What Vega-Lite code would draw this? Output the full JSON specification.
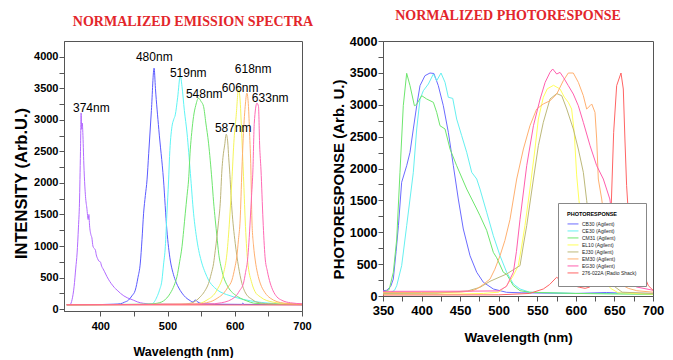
{
"$schema": "https://vega.github.io/schema/vega-lite/v6.json",
"background": "white",
"padding": {"left": 13, "top": 8, "right": 5, "bottom": 0},
"spacing": 16,
"config": {
  "view": {"stroke": "#555", "strokeWidth": 1},
  "axis": {"grid": false, "domainColor": "#555", "tickColor": "#555", "labelColor": "#000", "titleColor": "#000", "labelFontWeight": "bold", "titleFontWeight": "bold", "labelFont": "Liberation Sans", "titleFont": "Liberation Sans", "labelOverlap": false, "labelFlush": false},
  "title": {"font": "Liberation Serif", "fontSize": 14, "fontWeight": "bold", "color": "#e3262b", "offset": 12}
},
"resolve": {"scale": {"color": "independent", "x": "independent", "y": "independent"}},
"datasets": {
"emis": [
{"s":"374nm","w":350,"v":70},{"s":"374nm","w":355,"v":72},{"s":"374nm","w":358,"v":150},{"s":"374nm","w":361,"v":355},{"s":"374nm","w":363.5,"v":650},{"s":"374nm","w":365.5,"v":890},{"s":"374nm","w":367.5,"v":1300},{"s":"374nm","w":369,"v":1680},{"s":"374nm","w":370.5,"v":2500},{"s":"374nm","w":371.5,"v":3110},{"s":"374nm","w":372.3,"v":2850},{"s":"374nm","w":373.2,"v":2950},{"s":"374nm","w":374,"v":2800},{"s":"374nm","w":375.5,"v":2300},{"s":"374nm","w":377,"v":1950},{"s":"374nm","w":378,"v":1783},{"s":"374nm","w":380,"v":1600},{"s":"374nm","w":382,"v":1420},{"s":"374nm","w":383,"v":1500},{"s":"374nm","w":384,"v":1330},{"s":"374nm","w":386,"v":1180},{"s":"374nm","w":387.5,"v":1130},{"s":"374nm","w":389,"v":1000},{"s":"374nm","w":391,"v":960},{"s":"374nm","w":392.6,"v":940},{"s":"374nm","w":394,"v":860},{"s":"374nm","w":396,"v":800},{"s":"374nm","w":398,"v":760},{"s":"374nm","w":400,"v":750},{"s":"374nm","w":402,"v":680},{"s":"374nm","w":404,"v":640},{"s":"374nm","w":406,"v":600},{"s":"374nm","w":410,"v":513},{"s":"374nm","w":414,"v":440},{"s":"374nm","w":418,"v":380},{"s":"374nm","w":421,"v":340},{"s":"374nm","w":425,"v":300},{"s":"374nm","w":430,"v":250},{"s":"374nm","w":435,"v":210},{"s":"374nm","w":440,"v":180},{"s":"374nm","w":449,"v":143},{"s":"374nm","w":455,"v":115},{"s":"374nm","w":464,"v":92},{"s":"374nm","w":480,"v":80},{"s":"374nm","w":520,"v":75},{"s":"374nm","w":600,"v":72},{"s":"374nm","w":700,"v":70},
{"s":"480nm","w":350,"v":70},{"s":"480nm","w":400,"v":72},{"s":"480nm","w":420,"v":78},{"s":"480nm","w":430,"v":85},{"s":"480nm","w":436,"v":110},{"s":"480nm","w":442,"v":143},{"s":"480nm","w":447,"v":210},{"s":"480nm","w":452,"v":300},{"s":"480nm","w":456,"v":500},{"s":"480nm","w":459.5,"v":730},{"s":"480nm","w":462,"v":1100},{"s":"480nm","w":464.4,"v":1520},{"s":"480nm","w":467,"v":1800},{"s":"480nm","w":469.5,"v":2048},{"s":"480nm","w":472,"v":2470},{"s":"480nm","w":476,"v":3150},{"s":"480nm","w":480,"v":3820},{"s":"480nm","w":482,"v":3500},{"s":"480nm","w":487,"v":2850},{"s":"480nm","w":494,"v":2048},{"s":"480nm","w":499,"v":1254},{"s":"480nm","w":504,"v":778},{"s":"480nm","w":508,"v":580},{"s":"480nm","w":511.5,"v":460},{"s":"480nm","w":516,"v":350},{"s":"480nm","w":521.5,"v":254},{"s":"480nm","w":527,"v":185},{"s":"480nm","w":534,"v":132},{"s":"480nm","w":538,"v":110},{"s":"480nm","w":541,"v":145},{"s":"480nm","w":544,"v":120},{"s":"480nm","w":550,"v":90},{"s":"480nm","w":570,"v":78},{"s":"480nm","w":610,"v":75},{"s":"480nm","w":612,"v":95},{"s":"480nm","w":614,"v":75},{"s":"480nm","w":700,"v":70},
{"s":"519nm","w":350,"v":70},{"s":"519nm","w":460,"v":72},{"s":"519nm","w":470,"v":78},{"s":"519nm","w":477,"v":85},{"s":"519nm","w":484.3,"v":195},{"s":"519nm","w":488,"v":300},{"s":"519nm","w":491.7,"v":460},{"s":"519nm","w":494,"v":700},{"s":"519nm","w":496.7,"v":989},{"s":"519nm","w":499,"v":1500},{"s":"519nm","w":501.6,"v":2048},{"s":"519nm","w":503,"v":2418},{"s":"519nm","w":506.6,"v":2894},{"s":"519nm","w":509,"v":3000},{"s":"519nm","w":511.5,"v":3079},{"s":"519nm","w":515,"v":3350},{"s":"519nm","w":519,"v":3698},{"s":"519nm","w":521.5,"v":3529},{"s":"519nm","w":525,"v":3150},{"s":"519nm","w":529,"v":2790},{"s":"519nm","w":534,"v":2150},{"s":"519nm","w":538.7,"v":1520},{"s":"519nm","w":543.7,"v":1095},{"s":"519nm","w":551,"v":730},{"s":"519nm","w":556,"v":580},{"s":"519nm","w":561,"v":460},{"s":"519nm","w":570,"v":340},{"s":"519nm","w":578,"v":275},{"s":"519nm","w":588,"v":230},{"s":"519nm","w":598,"v":195},{"s":"519nm","w":610,"v":160},{"s":"519nm","w":623,"v":132},{"s":"519nm","w":640,"v":105},{"s":"519nm","w":658,"v":90},{"s":"519nm","w":680,"v":80},{"s":"519nm","w":700,"v":75},
{"s":"548nm","w":350,"v":70},{"s":"548nm","w":470,"v":78},{"s":"548nm","w":483,"v":90},{"s":"548nm","w":494,"v":130},{"s":"548nm","w":504,"v":250},{"s":"548nm","w":510,"v":380},{"s":"548nm","w":514,"v":513},{"s":"548nm","w":518,"v":750},{"s":"548nm","w":521.5,"v":989},{"s":"548nm","w":524,"v":1250},{"s":"548nm","w":526.4,"v":1520},{"s":"548nm","w":529,"v":1800},{"s":"548nm","w":531.3,"v":2048},{"s":"548nm","w":533.8,"v":2524},{"s":"548nm","w":536,"v":2800},{"s":"548nm","w":538.7,"v":3053},{"s":"548nm","w":542,"v":3230},{"s":"548nm","w":546,"v":3344},{"s":"548nm","w":550,"v":3290},{"s":"548nm","w":553.6,"v":3211},{"s":"548nm","w":557,"v":2950},{"s":"548nm","w":561,"v":2630},{"s":"548nm","w":566,"v":2048},{"s":"548nm","w":568.5,"v":1700},{"s":"548nm","w":571,"v":1413},{"s":"548nm","w":573.5,"v":1150},{"s":"548nm","w":576,"v":888},{"s":"548nm","w":580,"v":650},{"s":"548nm","w":583.3,"v":513},{"s":"548nm","w":588,"v":390},{"s":"548nm","w":593,"v":302},{"s":"548nm","w":600,"v":230},{"s":"548nm","w":608,"v":175},{"s":"548nm","w":618,"v":130},{"s":"548nm","w":628,"v":95},{"s":"548nm","w":650,"v":80},{"s":"548nm","w":700,"v":72},
{"s":"587nm","w":350,"v":70},{"s":"587nm","w":520,"v":75},{"s":"587nm","w":535,"v":95},{"s":"587nm","w":548.7,"v":195},{"s":"587nm","w":555,"v":280},{"s":"587nm","w":561,"v":408},{"s":"587nm","w":565,"v":560},{"s":"587nm","w":568.5,"v":725},{"s":"587nm","w":571,"v":930},{"s":"587nm","w":573.5,"v":1148},{"s":"587nm","w":576,"v":1400},{"s":"587nm","w":578.4,"v":1678},{"s":"587nm","w":580.9,"v":2206},{"s":"587nm","w":582.4,"v":2400},{"s":"587nm","w":585,"v":2600},{"s":"587nm","w":587.3,"v":2772},{"s":"587nm","w":589.5,"v":2650},{"s":"587nm","w":591,"v":2400},{"s":"587nm","w":592.3,"v":2206},{"s":"587nm","w":595.8,"v":1571},{"s":"587nm","w":598,"v":1300},{"s":"587nm","w":600.7,"v":1043},{"s":"587nm","w":603,"v":850},{"s":"587nm","w":605.6,"v":671},{"s":"587nm","w":608,"v":530},{"s":"587nm","w":610.6,"v":408},{"s":"587nm","w":614,"v":300},{"s":"587nm","w":618,"v":222},{"s":"587nm","w":625,"v":160},{"s":"587nm","w":633,"v":110},{"s":"587nm","w":650,"v":85},{"s":"587nm","w":700,"v":72},
{"s":"606nm","w":350,"v":70},{"s":"606nm","w":540,"v":78},{"s":"606nm","w":558.6,"v":143},{"s":"606nm","w":573.5,"v":302},{"s":"606nm","w":583.3,"v":567},{"s":"606nm","w":588.4,"v":884},{"s":"606nm","w":592.3,"v":1413},{"s":"606nm","w":596,"v":2100},{"s":"606nm","w":599,"v":2700},{"s":"606nm","w":602,"v":3053},{"s":"606nm","w":605.6,"v":3487},{"s":"606nm","w":608,"v":3300},{"s":"606nm","w":610.6,"v":2700},{"s":"606nm","w":613,"v":2100},{"s":"606nm","w":615.5,"v":1413},{"s":"606nm","w":619,"v":778},{"s":"606nm","w":625.5,"v":408},{"s":"606nm","w":630,"v":280},{"s":"606nm","w":637.8,"v":195},{"s":"606nm","w":657,"v":110},{"s":"606nm","w":680,"v":85},{"s":"606nm","w":700,"v":78},
{"s":"618nm","w":350,"v":70},{"s":"618nm","w":540,"v":80},{"s":"618nm","w":563.5,"v":116},{"s":"618nm","w":575,"v":180},{"s":"618nm","w":583.3,"v":250},{"s":"618nm","w":590,"v":350},{"s":"618nm","w":595.8,"v":460},{"s":"618nm","w":600,"v":650},{"s":"618nm","w":603,"v":830},{"s":"618nm","w":605.5,"v":1100},{"s":"618nm","w":608,"v":1413},{"s":"618nm","w":610.6,"v":2206},{"s":"618nm","w":612.5,"v":2700},{"s":"618nm","w":615.5,"v":3211},{"s":"618nm","w":618,"v":3424},{"s":"618nm","w":620.4,"v":3211},{"s":"618nm","w":622,"v":2800},{"s":"618nm","w":624,"v":2206},{"s":"618nm","w":625.5,"v":1413},{"s":"618nm","w":628,"v":1000},{"s":"618nm","w":630.4,"v":778},{"s":"618nm","w":634,"v":560},{"s":"618nm","w":637.8,"v":413},{"s":"618nm","w":645,"v":260},{"s":"618nm","w":652.7,"v":175},{"s":"618nm","w":673,"v":95},{"s":"618nm","w":700,"v":78},
{"s":"633nm","w":350,"v":70},{"s":"633nm","w":560,"v":80},{"s":"633nm","w":580,"v":100},{"s":"633nm","w":600.7,"v":195},{"s":"633nm","w":607,"v":290},{"s":"633nm","w":613,"v":413},{"s":"633nm","w":616,"v":580},{"s":"633nm","w":619,"v":778},{"s":"633nm","w":621,"v":1050},{"s":"633nm","w":623,"v":1413},{"s":"633nm","w":625,"v":1800},{"s":"633nm","w":627,"v":2206},{"s":"633nm","w":629,"v":2947},{"s":"633nm","w":633,"v":3265},{"s":"633nm","w":635.3,"v":3211},{"s":"633nm","w":637,"v":2600},{"s":"633nm","w":639,"v":2206},{"s":"633nm","w":642,"v":1413},{"s":"633nm","w":645,"v":830},{"s":"633nm","w":648.5,"v":600},{"s":"633nm","w":652.7,"v":413},{"s":"633nm","w":657,"v":290},{"s":"633nm","w":662.6,"v":195},{"s":"633nm","w":670,"v":140},{"s":"633nm","w":683,"v":100},{"s":"633nm","w":700,"v":85},
{"s":"base","w":350,"v":66},{"s":"base","w":700,"v":66}
],
"peaks": [
{"t":"374nm","w":386.7,"v":3190},{"t":"480nm","w":480.3,"v":4000},{"t":"519nm","w":530.8,"v":3746},{"t":"548nm","w":554.6,"v":3413},{"t":"587nm","w":597.7,"v":2873},{"t":"606nm","w":608,"v":3508},{"t":"618nm","w":627.4,"v":3810},{"t":"633nm","w":652.7,"v":3349}
],
"resp": [
{"d":"CB30 (Agilent)","w":350,"v":83},{"d":"CB30 (Agilent)","w":355,"v":90},{"d":"CB30 (Agilent)","w":360,"v":150},{"d":"CB30 (Agilent)","w":363.4,"v":267},{"d":"CB30 (Agilent)","w":367,"v":700},{"d":"CB30 (Agilent)","w":370,"v":1103},{"d":"CB30 (Agilent)","w":374.2,"v":1784},{"d":"CB30 (Agilent)","w":380.7,"v":2044},{"d":"CB30 (Agilent)","w":385,"v":2254},{"d":"CB30 (Agilent)","w":389.3,"v":2620},{"d":"CB30 (Agilent)","w":393.7,"v":2985},{"d":"CB30 (Agilent)","w":398,"v":3300},{"d":"CB30 (Agilent)","w":404.4,"v":3456},{"d":"CB30 (Agilent)","w":410.9,"v":3498},{"d":"CB30 (Agilent)","w":416,"v":3490},{"d":"CB30 (Agilent)","w":421.7,"v":3300},{"d":"CB30 (Agilent)","w":428.2,"v":2985},{"d":"CB30 (Agilent)","w":434.7,"v":2568},{"d":"CB30 (Agilent)","w":441.2,"v":2044},{"d":"CB30 (Agilent)","w":447.6,"v":1522},{"d":"CB30 (Agilent)","w":454.1,"v":1051},{"d":"CB30 (Agilent)","w":462.8,"v":632},{"d":"CB30 (Agilent)","w":471.5,"v":372},{"d":"CB30 (Agilent)","w":480.1,"v":215},{"d":"CB30 (Agilent)","w":493,"v":110},{"d":"CB30 (Agilent)","w":510,"v":58},{"d":"CB30 (Agilent)","w":530,"v":50},{"d":"CB30 (Agilent)","w":560,"v":45},{"d":"CB30 (Agilent)","w":600,"v":40},{"d":"CB30 (Agilent)","w":640,"v":55},{"d":"CB30 (Agilent)","w":660,"v":45},{"d":"CB30 (Agilent)","w":700,"v":40},
{"d":"CE30 (Agilent)","w":350,"v":50},{"d":"CE30 (Agilent)","w":360,"v":55},{"d":"CE30 (Agilent)","w":365,"v":90},{"d":"CE30 (Agilent)","w":367.8,"v":162},{"d":"CE30 (Agilent)","w":374.2,"v":476},{"d":"CE30 (Agilent)","w":380.7,"v":1103},{"d":"CE30 (Agilent)","w":385,"v":1522},{"d":"CE30 (Agilent)","w":389.3,"v":1940},{"d":"CE30 (Agilent)","w":393.7,"v":2620},{"d":"CE30 (Agilent)","w":398,"v":3090},{"d":"CE30 (Agilent)","w":402.3,"v":3220},{"d":"CE30 (Agilent)","w":408.8,"v":3325},{"d":"CE30 (Agilent)","w":415.3,"v":3482},{"d":"CE30 (Agilent)","w":419.6,"v":3377},{"d":"CE30 (Agilent)","w":425.2,"v":3498},{"d":"CE30 (Agilent)","w":430.4,"v":3352},{"d":"CE30 (Agilent)","w":434.7,"v":3117},{"d":"CE30 (Agilent)","w":440.4,"v":3100},{"d":"CE30 (Agilent)","w":445.5,"v":2776},{"d":"CE30 (Agilent)","w":452,"v":2515},{"d":"CE30 (Agilent)","w":458.5,"v":2254},{"d":"CE30 (Agilent)","w":465,"v":1940},{"d":"CE30 (Agilent)","w":471.5,"v":1835},{"d":"CE30 (Agilent)","w":475.7,"v":1678},{"d":"CE30 (Agilent)","w":484.4,"v":1313},{"d":"CE30 (Agilent)","w":493,"v":946},{"d":"CE30 (Agilent)","w":501.7,"v":632},{"d":"CE30 (Agilent)","w":510.3,"v":372},{"d":"CE30 (Agilent)","w":519,"v":188},{"d":"CE30 (Agilent)","w":527.6,"v":110},{"d":"CE30 (Agilent)","w":540,"v":60},{"d":"CE30 (Agilent)","w":600,"v":40},{"d":"CE30 (Agilent)","w":700,"v":35},
{"d":"CM31 (Agilent)","w":350,"v":58},{"d":"CM31 (Agilent)","w":358,"v":100},{"d":"CM31 (Agilent)","w":363.4,"v":372},{"d":"CM31 (Agilent)","w":367.8,"v":894},{"d":"CM31 (Agilent)","w":372,"v":1940},{"d":"CM31 (Agilent)","w":376.3,"v":2985},{"d":"CM31 (Agilent)","w":380.7,"v":3493},{"d":"CM31 (Agilent)","w":385,"v":3300},{"d":"CM31 (Agilent)","w":390.7,"v":2985},{"d":"CM31 (Agilent)","w":393.3,"v":3000},{"d":"CM31 (Agilent)","w":400.2,"v":3142},{"d":"CM31 (Agilent)","w":406.6,"v":3090},{"d":"CM31 (Agilent)","w":415.3,"v":3038},{"d":"CM31 (Agilent)","w":419.6,"v":2881},{"d":"CM31 (Agilent)","w":423.9,"v":2671},{"d":"CM31 (Agilent)","w":430.4,"v":2620},{"d":"CM31 (Agilent)","w":436.9,"v":2306},{"d":"CM31 (Agilent)","w":445.5,"v":2044},{"d":"CM31 (Agilent)","w":458.5,"v":1678},{"d":"CM31 (Agilent)","w":471.5,"v":1365},{"d":"CM31 (Agilent)","w":475.7,"v":1260},{"d":"CM31 (Agilent)","w":484.4,"v":1030},{"d":"CM31 (Agilent)","w":493,"v":685},{"d":"CM31 (Agilent)","w":497.4,"v":600},{"d":"CM31 (Agilent)","w":506,"v":372},{"d":"CM31 (Agilent)","w":510.3,"v":340},{"d":"CM31 (Agilent)","w":519,"v":162},{"d":"CM31 (Agilent)","w":527.6,"v":83},{"d":"CM31 (Agilent)","w":540.5,"v":58},{"d":"CM31 (Agilent)","w":600,"v":40},{"d":"CM31 (Agilent)","w":700,"v":25},
{"d":"EL10 (Agilent)","w":350,"v":30},{"d":"EL10 (Agilent)","w":450,"v":32},{"d":"EL10 (Agilent)","w":480,"v":40},{"d":"EL10 (Agilent)","w":500,"v":60},{"d":"EL10 (Agilent)","w":510.3,"v":162},{"d":"EL10 (Agilent)","w":518,"v":300},{"d":"EL10 (Agilent)","w":525.4,"v":476},{"d":"EL10 (Agilent)","w":530,"v":800},{"d":"EL10 (Agilent)","w":534,"v":1103},{"d":"EL10 (Agilent)","w":540.5,"v":1678},{"d":"EL10 (Agilent)","w":547,"v":2306},{"d":"EL10 (Agilent)","w":551.4,"v":2776},{"d":"EL10 (Agilent)","w":557.8,"v":3117},{"d":"EL10 (Agilent)","w":563,"v":3250},{"d":"EL10 (Agilent)","w":571,"v":3305},{"d":"EL10 (Agilent)","w":579.5,"v":3247},{"d":"EL10 (Agilent)","w":585,"v":3120},{"d":"EL10 (Agilent)","w":590.2,"v":3038},{"d":"EL10 (Agilent)","w":594.5,"v":2933},{"d":"EL10 (Agilent)","w":597.9,"v":2568},{"d":"EL10 (Agilent)","w":601,"v":1900},{"d":"EL10 (Agilent)","w":604,"v":1500},{"d":"EL10 (Agilent)","w":610,"v":900},{"d":"EL10 (Agilent)","w":620,"v":500},{"d":"EL10 (Agilent)","w":628,"v":350},{"d":"EL10 (Agilent)","w":636,"v":267},{"d":"EL10 (Agilent)","w":645,"v":120},{"d":"EL10 (Agilent)","w":655,"v":50},{"d":"EL10 (Agilent)","w":700,"v":30},
{"d":"EJ30 (Agilent)","w":350,"v":40},{"d":"EJ30 (Agilent)","w":420,"v":45},{"d":"EJ30 (Agilent)","w":460,"v":80},{"d":"EJ30 (Agilent)","w":475.7,"v":136},{"d":"EJ30 (Agilent)","w":488.7,"v":230},{"d":"EJ30 (Agilent)","w":501.7,"v":300},{"d":"EJ30 (Agilent)","w":510.3,"v":345},{"d":"EJ30 (Agilent)","w":520,"v":420},{"d":"EJ30 (Agilent)","w":527.6,"v":476},{"d":"EJ30 (Agilent)","w":532,"v":800},{"d":"EJ30 (Agilent)","w":536.3,"v":1103},{"d":"EJ30 (Agilent)","w":545,"v":1835},{"d":"EJ30 (Agilent)","w":551.4,"v":2358},{"d":"EJ30 (Agilent)","w":557.8,"v":2724},{"d":"EJ30 (Agilent)","w":566.5,"v":3090},{"d":"EJ30 (Agilent)","w":575.2,"v":3175},{"d":"EJ30 (Agilent)","w":581.7,"v":3142},{"d":"EJ30 (Agilent)","w":588.2,"v":2933},{"d":"EJ30 (Agilent)","w":596.7,"v":2620},{"d":"EJ30 (Agilent)","w":603.2,"v":2306},{"d":"EJ30 (Agilent)","w":609.7,"v":1940},{"d":"EJ30 (Agilent)","w":614,"v":1500},{"d":"EJ30 (Agilent)","w":620,"v":900},{"d":"EJ30 (Agilent)","w":630,"v":550},{"d":"EJ30 (Agilent)","w":640,"v":300},{"d":"EJ30 (Agilent)","w":648.6,"v":162},{"d":"EJ30 (Agilent)","w":660,"v":60},{"d":"EJ30 (Agilent)","w":700,"v":40},
{"d":"EM30 (Agilent)","w":350,"v":55},{"d":"EM30 (Agilent)","w":400,"v":55},{"d":"EM30 (Agilent)","w":450,"v":60},{"d":"EM30 (Agilent)","w":465,"v":80},{"d":"EM30 (Agilent)","w":471.5,"v":110},{"d":"EM30 (Agilent)","w":480,"v":180},{"d":"EM30 (Agilent)","w":488.8,"v":267},{"d":"EM30 (Agilent)","w":495,"v":420},{"d":"EM30 (Agilent)","w":501.7,"v":632},{"d":"EM30 (Agilent)","w":508,"v":870},{"d":"EM30 (Agilent)","w":514.6,"v":1200},{"d":"EM30 (Agilent)","w":523.3,"v":1835},{"d":"EM30 (Agilent)","w":532,"v":2306},{"d":"EM30 (Agilent)","w":540.5,"v":2671},{"d":"EM30 (Agilent)","w":549.2,"v":2933},{"d":"EM30 (Agilent)","w":557.8,"v":3012},{"d":"EM30 (Agilent)","w":566.5,"v":3063},{"d":"EM30 (Agilent)","w":575.2,"v":3168},{"d":"EM30 (Agilent)","w":583.7,"v":3377},{"d":"EM30 (Agilent)","w":590.2,"v":3498},{"d":"EM30 (Agilent)","w":596.7,"v":3498},{"d":"EM30 (Agilent)","w":603.2,"v":3352},{"d":"EM30 (Agilent)","w":609.7,"v":3142},{"d":"EM30 (Agilent)","w":614,"v":2933},{"d":"EM30 (Agilent)","w":618.4,"v":2985},{"d":"EM30 (Agilent)","w":620.6,"v":3012},{"d":"EM30 (Agilent)","w":624.8,"v":2881},{"d":"EM30 (Agilent)","w":627,"v":2463},{"d":"EM30 (Agilent)","w":629.1,"v":1835},{"d":"EM30 (Agilent)","w":633.5,"v":1522},{"d":"EM30 (Agilent)","w":640,"v":900},{"d":"EM30 (Agilent)","w":648,"v":450},{"d":"EM30 (Agilent)","w":657,"v":190},{"d":"EM30 (Agilent)","w":668,"v":120},{"d":"EM30 (Agilent)","w":679,"v":83},{"d":"EM30 (Agilent)","w":700,"v":60},
{"d":"EG30 (Agilent)","w":350,"v":73},{"d":"EG30 (Agilent)","w":450,"v":75},{"d":"EG30 (Agilent)","w":500,"v":80},{"d":"EG30 (Agilent)","w":510,"v":150},{"d":"EG30 (Agilent)","w":519,"v":372},{"d":"EG30 (Agilent)","w":523,"v":700},{"d":"EG30 (Agilent)","w":527.6,"v":1200},{"d":"EG30 (Agilent)","w":536.3,"v":2044},{"d":"EG30 (Agilent)","w":545,"v":2671},{"d":"EG30 (Agilent)","w":553.7,"v":3090},{"d":"EG30 (Agilent)","w":560.2,"v":3352},{"d":"EG30 (Agilent)","w":566.5,"v":3508},{"d":"EG30 (Agilent)","w":570,"v":3561},{"d":"EG30 (Agilent)","w":575.2,"v":3482},{"d":"EG30 (Agilent)","w":579.5,"v":3508},{"d":"EG30 (Agilent)","w":583.8,"v":3430},{"d":"EG30 (Agilent)","w":590.2,"v":3300},{"d":"EG30 (Agilent)","w":596.7,"v":3168},{"d":"EG30 (Agilent)","w":603.2,"v":2985},{"d":"EG30 (Agilent)","w":609.7,"v":2724},{"d":"EG30 (Agilent)","w":618.4,"v":2358},{"d":"EG30 (Agilent)","w":627,"v":2044},{"d":"EG30 (Agilent)","w":635.6,"v":1835},{"d":"EG30 (Agilent)","w":644,"v":1522},{"d":"EG30 (Agilent)","w":650,"v":1000},{"d":"EG30 (Agilent)","w":655,"v":550},{"d":"EG30 (Agilent)","w":661.5,"v":267},{"d":"EG30 (Agilent)","w":678.8,"v":141},{"d":"EG30 (Agilent)","w":700,"v":90},
{"d":"276-022A (Radio Shack)","w":350,"v":15},{"d":"276-022A (Radio Shack)","w":500,"v":18},{"d":"276-022A (Radio Shack)","w":540,"v":40},{"d":"276-022A (Radio Shack)","w":557.8,"v":110},{"d":"276-022A (Radio Shack)","w":566,"v":180},{"d":"276-022A (Radio Shack)","w":575,"v":293},{"d":"276-022A (Radio Shack)","w":583,"v":230},{"d":"276-022A (Radio Shack)","w":592,"v":180},{"d":"276-022A (Radio Shack)","w":605,"v":136},{"d":"276-022A (Radio Shack)","w":612,"v":120},{"d":"276-022A (Radio Shack)","w":618,"v":140},{"d":"276-022A (Radio Shack)","w":627,"v":250},{"d":"276-022A (Radio Shack)","w":634,"v":400},{"d":"276-022A (Radio Shack)","w":640,"v":530},{"d":"276-022A (Radio Shack)","w":645,"v":1100},{"d":"276-022A (Radio Shack)","w":647,"v":1835},{"d":"276-022A (Radio Shack)","w":649,"v":2568},{"d":"276-022A (Radio Shack)","w":652.9,"v":3300},{"d":"276-022A (Radio Shack)","w":658.5,"v":3498},{"d":"276-022A (Radio Shack)","w":661.5,"v":3247},{"d":"276-022A (Radio Shack)","w":663.6,"v":2463},{"d":"276-022A (Radio Shack)","w":665.8,"v":1730},{"d":"276-022A (Radio Shack)","w":668,"v":1300},{"d":"276-022A (Radio Shack)","w":672.3,"v":894},{"d":"276-022A (Radio Shack)","w":683.2,"v":476},{"d":"276-022A (Radio Shack)","w":694,"v":162},{"d":"276-022A (Radio Shack)","w":700,"v":90}
]
},
"hconcat": [
{
  "width": 238, "height": 270,
  "title": {"text": "NORMALIZED EMISSION SPECTRA", "dx": 10},
  "encoding": {
    "x": {"field": "w", "type": "quantitative", "scale": {"domain": [346, 700], "nice": false, "zero": false},
      "axis": {"title": "Wavelength (nm)", "values": [400,450,500,550,600,650,700], "format": "d", "labelExpr": "datum.value % 100 === 0 ? datum.label : ''", "labelOverlap": false, "labelFlush": false, "tickSize": 5, "labelFontSize": 11, "labelPadding": 4, "titleFontSize": 12.5, "titlePadding": 14,
        "encode": {"ticks": {"update": {"y2": {"signal": "datum.value % 100 === 0 ? 5 : 3"}}}}}},
    "y": {"field": "v", "type": "quantitative", "scale": {"domain": [-30, 4250], "nice": false, "zero": false},
      "axis": {"title": "INTENSITY (Arb.U.)", "values": [0,250,500,750,1000,1250,1500,1750,2000,2250,2500,2750,3000,3250,3500,3750,4000], "format": "d", "labelExpr": "datum.value % 500 === 0 ? datum.label : ''", "labelOverlap": false, "tickSize": 5, "labelFontSize": 11, "labelPadding": 1, "titleFontSize": 16.5, "titlePadding": 4, "titleY": 142,
        "encode": {"ticks": {"update": {"x2": {"signal": "datum.value % 500 === 0 ? -5 : -3"}}}}}}
  },
  "layer": [
    {
      "data": {"name": "emis"},
      "mark": {"type": "line", "strokeWidth": 1, "interpolate": "monotone", "clip": true},
      "encoding": {
        "color": {"field": "s", "type": "nominal", "legend": null,
          "scale": {"domain": ["374nm","480nm","519nm","548nm","587nm","606nm","618nm","633nm","base"], "range": ["#b36bff","#5b5bff","#5ff5f5","#6ee66e","#bdb57a","#f5f55a","#ffb070","#ff69b4","#ff6b6b"]}}
      }
    },
    {
      "data": {"name": "peaks"},
      "mark": {"type": "text", "font": "Liberation Sans", "fontSize": 12, "align": "center", "baseline": "middle", "color": "#000"},
      "encoding": {"text": {"field": "t"}}
    }
  ]
},
{
  "width": 270, "height": 255,
  "title": {"text": "NORMALIZED PHOTORESPONSE", "dx": -10},
  "data": {"name": "resp"},
  "mark": {"type": "line", "strokeWidth": 1, "clip": true},
  "encoding": {
    "x": {"field": "w", "type": "quantitative", "scale": {"domain": [350, 700], "nice": false, "zero": false},
      "axis": {"title": "Wavelength (nm)", "values": [350,375,400,425,450,475,500,525,550,575,600,625,650,675,700], "format": "d", "labelExpr": "datum.value % 50 === 0 ? datum.label : ''", "tickSize": 5, "labelFontSize": 13, "labelPadding": 3, "titleFontSize": 13.5, "titlePadding": 13,
        "encode": {"ticks": {"update": {"y2": {"signal": "datum.value % 50 === 0 ? 5 : 3"}}}}}},
    "y": {"field": "v", "type": "quantitative", "scale": {"domain": [0, 4000], "nice": false},
      "axis": {"title": "PHOTORESPONSE (Arb. U.)", "values": [0,250,500,750,1000,1250,1500,1750,2000,2250,2500,2750,3000,3250,3500,3750,4000], "format": "d", "labelExpr": "datum.value % 500 === 0 ? datum.label : ''", "tickSize": 5, "labelFontSize": 12.5, "labelPadding": 1, "titleFontSize": 15, "titlePadding": 3, "titleY": 138,
        "encode": {"ticks": {"update": {"x2": {"signal": "datum.value % 500 === 0 ? -5 : -3"}}}}}},
    "color": {"field": "d", "type": "nominal",
      "scale": {"domain": ["CB30 (Agilent)","CE30 (Agilent)","CM31 (Agilent)","EL10 (Agilent)","EJ30 (Agilent)","EM30 (Agilent)","EG30 (Agilent)","276-022A (Radio Shack)"], "range": ["#6b6bff","#66f0f0","#6ee66e","#ffff5a","#bdb97a","#ffb070","#ff5fae","#ff6464"]},
      "legend": {"orient": "none", "legendX": 175, "legendY": 162, "title": "PHOTORESPONSE", "titleFont": "Liberation Sans", "titleFontSize": 5.5, "titleFontWeight": "bold", "titleColor": "#000", "titlePadding": 3, "labelFont": "Liberation Sans", "labelFontSize": 5, "labelColor": "#222", "labelOffset": 3, "symbolType": "stroke", "symbolSize": 120, "symbolStrokeWidth": 1, "clipHeight": 6.9, "rowPadding": 0, "padding": 9, "strokeColor": "#888", "fillColor": "white"}}
  }
}
]
}
